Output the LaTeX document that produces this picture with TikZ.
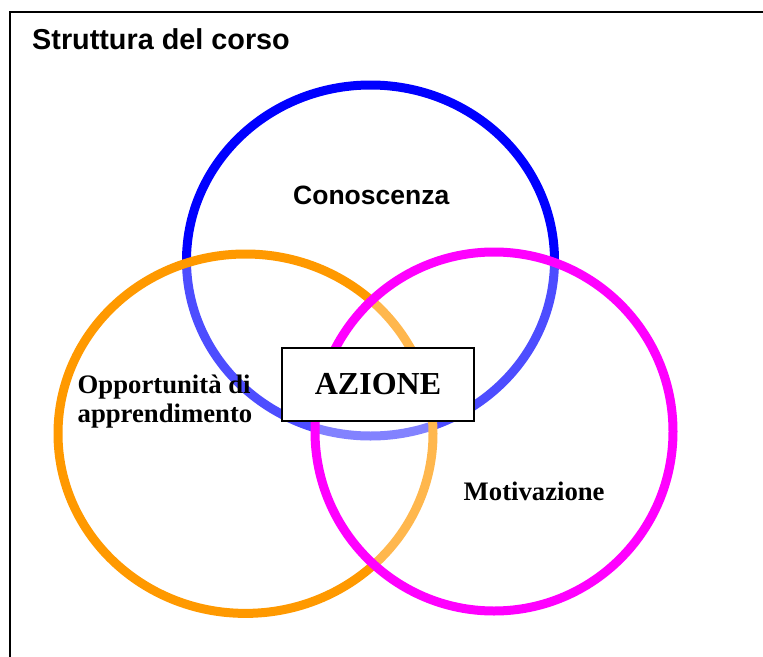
\documentclass[tikz,border=0pt]{standalone}
\usepackage{fontspec}
\setmainfont{Liberation Serif}
\setsansfont{Liberation Sans}
\definecolor{cblue}{HTML}{0000FF}
\definecolor{corange}{HTML}{FF9900}
\definecolor{cmag}{HTML}{FF00FF}
\begin{document}
\begin{tikzpicture}[x=1pt,y=-1pt,
  ring/.style={line width=9pt,fill=white,fill opacity=0.3,draw opacity=1},
  frameline/.style={line width=2pt,black},
  sanslabel/.style={font=\sffamily\bfseries\fontsize{26.5}{30}\selectfont,inner sep=0pt},
  seriflabel/.style={font=\rmfamily\bfseries\fontsize{26.7}{29.5}\selectfont,inner sep=0pt,align=left},
  actionbox/.style={draw=black,line width=2pt,fill=white,minimum width=192pt,minimum height=73pt,inner sep=0pt,font=\rmfamily\bfseries\fontsize{32}{36}\selectfont}]
\useasboundingbox (0,0) rectangle (763,656);
% frame
\coordinate (fbl) at (10,657);
\coordinate (ftl) at (10,12);
\coordinate (ftr) at (764,12);
\draw[frameline] (fbl) -- (ftl) -- (ftr);
% title
\node[sanslabel,anchor=base west,font=\sffamily\bfseries\fontsize{28.8}{32}\selectfont] (title) at (32,49.3) {Struttura del corso};
% circles
\draw[ring,draw=cblue] (370.5,260.5) ellipse [x radius=184, y radius=175.5];
\draw[ring,draw=corange] (245.5,433.7) ellipse [x radius=187.5, y radius=179.7];
\draw[ring,draw=cmag] (494,431.5) ellipse [x radius=179, y radius=179.5];
% labels
\node[sanslabel,anchor=base west] (know) at (293,204) {Conoscenza};
\node[seriflabel,anchor=base west] (opp1) at (77.5,393) {Opportunità di};
\node[seriflabel,anchor=base west] (opp2) at (77.5,422) {apprendimento};
\node[seriflabel,anchor=base west] (mot) at (463.5,500) {Motivazione};
\node[actionbox] (azione) at (378,384.5) {AZIONE};
\end{tikzpicture}
\end{document}
